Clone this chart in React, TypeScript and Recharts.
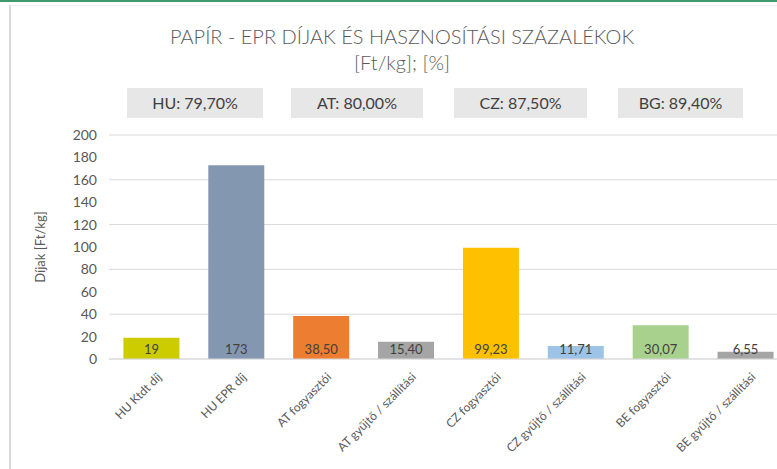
import React from 'react';
import { BarChart, Bar, XAxis, YAxis, CartesianGrid, Cell, LabelList } from 'recharts';

const categories = [
  'HU Ktdt díj',
  'HU EPR díj',
  'AT fogyasztói',
  'AT gyűjtő / szállítási',
  'CZ fogyasztói',
  'CZ gyűjtő / szállítási',
  'BE fogyasztói',
  'BE gyűjtő / szállítási',
];
const fees = [19, 173, 38.5, 15.4, 99.23, 11.71, 30.07, 6.55];
const barColors = ['#cccc00', '#8497b0', '#ed7d31', '#a5a5a5', '#ffc000', '#9dc3e6', '#a9d18e', '#a5a5a5'];
const rates = ['HU: 79,70%', 'AT: 80,00%', 'CZ: 87,50%', 'BG: 89,40%'];
const yTicks = [0, 20, 40, 60, 80, 100, 120, 140, 160, 180, 200];

const fmt = (v: number) => (Number.isInteger(v) ? String(v) : v.toFixed(2).replace('.', ','));

const data = categories.map((name, i) => ({ name, fee: fees[i], label: fmt(fees[i]) }));

const FONT = 'Lato, "Open Sans", sans-serif';

const boxPos = [
  { left: 127, width: 136 },
  { left: 291, width: 132 },
  { left: 454, width: 133 },
  { left: 618, width: 125 },
];

const XTick = (props: any) => {
  const { x, y, payload } = props;
  return (
    <g transform={`translate(${x + 8},${y + 8})`}>
      <text transform="rotate(-45)" textAnchor="end" dy={4} fontSize={12} fill="#595959" fontFamily={FONT}>
        {payload.value}
      </text>
    </g>
  );
};

const App: React.FC = () => {
  return (
    <div
      style={{
        position: 'fixed',
        left: 0,
        top: 0,
        width: 777,
        height: 469,
        overflow: 'hidden',
        background: '#fff',
        fontFamily: FONT,
      }}
    >
      <div style={{ position: 'absolute', left: 0, top: 0, width: 777, height: 2, background: '#3d9a6d' }} />
      <div
        style={{
          position: 'absolute',
          left: 9,
          top: 5,
          width: 800,
          height: 470,
          borderLeft: '2px solid #d9d9d9',
          borderTop: '1px solid #ececec',
        }}
      />
      <div style={{ position: 'absolute', left: 0, top: 0 }}>
        <BarChart width={800} height={469} data={data} margin={{ top: 135, right: 12, left: 0, bottom: 0 }} barCategoryGap="17%">
          <CartesianGrid vertical={false} stroke="#d9d9d9" />
          <XAxis
            dataKey="name"
            height={110}
            interval={0}
            tickLine={false}
            axisLine={{ stroke: '#d9d9d9' }}
            tick={<XTick />}
          />
          <YAxis
            width={109}
            domain={[0, 200]}
            ticks={yTicks}
            tickLine={false}
            axisLine={false}
            tickSize={0}
            tickMargin={12}
            tick={{ fontSize: 14, fill: '#595959', fontFamily: FONT }}
            label={{ value: 'Díjak [Ft/kg]', angle: -90, position: 'center', dx: -14, fontSize: 13, fill: '#595959', fontFamily: FONT }}
          />
          <Bar dataKey="fee" isAnimationActive={false}>
            {data.map((d, i) => (
              <Cell key={d.name} fill={barColors[i]} />
            ))}
            <LabelList dataKey="label" position="insideBottom" fill="#404040" fontSize={13} fontFamily={FONT} />
          </Bar>
        </BarChart>
      </div>
      <div
        style={{
          position: 'absolute',
          left: 0,
          width: 804,
          top: 23,
          textAlign: 'center',
          fontSize: 20,
          fontWeight: 300,
          color: '#595959',
          lineHeight: '26px',
        }}
      >
        PAPÍR - EPR DÍJAK ÉS HASZNOSÍTÁSI SZÁZALÉKOK
        <br />
        [Ft/kg]; [%]
      </div>
      {rates.map((r, i) => (
        <div
          key={r}
          style={{
            position: 'absolute',
            left: boxPos[i].left,
            width: boxPos[i].width,
            top: 88,
            height: 30,
            background: '#e7e7e7',
            color: '#404040',
            fontSize: 16,
            lineHeight: '30px',
            textAlign: 'center',
          }}
        >
          {r}
        </div>
      ))}
    </div>
  );
};

export default App;
